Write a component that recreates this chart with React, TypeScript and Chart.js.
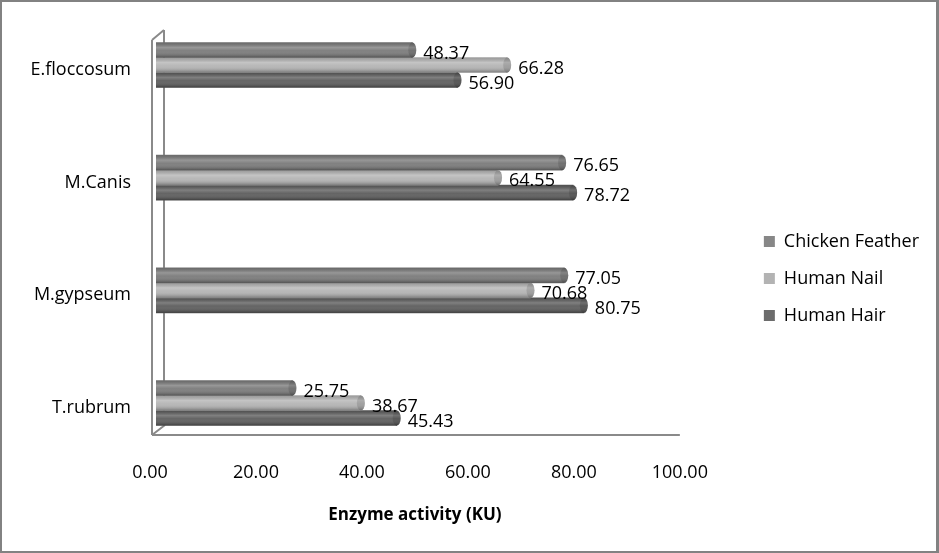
import React, { useEffect, useRef } from 'react';
import { Chart, registerables } from 'chart.js';

Chart.register(...registerables);

// ---- data ----
const categories: string[] = ['T.rubrum', 'M.gypseum', 'M.Canis', 'E.floccosum'];
const seriesNames: string[] = ['Chicken Feather', 'Human Nail', 'Human Hair'];
const chickenFeather: number[] = [25.75, 77.05, 76.65, 48.37];
const humanNail: number[] = [38.67, 70.68, 64.55, 66.28];
const humanHair: number[] = [45.43, 80.75, 78.72, 56.9];
const xMin = 0;
const xMax = 100;
const xStep = 20;
const axisTitle = 'Enzyme activity (KU)';

// ---- styles ----
const barColors = ['#7a7a7a', '#b4b4b4', '#5c5c5c'];
const legendColors = ['#878787', '#b3b3b3', '#6c6c6c'];
const FONT = 'Open Sans';
const DEPTH_X = 6;
const DEPTH_Y = -5;

const wallsPlugin = {
  id: 'walls3d',
  beforeDatasetsDraw(chart: any) {
    const { ctx, chartArea } = chart;
    const L = chartArea.left;
    const B = chartArea.bottom;
    const R = chartArea.right;
    ctx.save();
    ctx.strokeStyle = '#8a8a8a';
    ctx.lineWidth = 2;
    ctx.beginPath();
    // back wall edge
    ctx.moveTo(L + 14, 30);
    ctx.lineTo(L + 14, B - 10);
    // front wall edge
    ctx.moveTo(L + 2, 40);
    ctx.lineTo(L + 2, B);
    // diagonals
    ctx.moveTo(L + 2, 40);
    ctx.lineTo(L + 14, 30);
    ctx.moveTo(L + 2, B);
    ctx.lineTo(L + 15, B - 10);
    // floor front edge
    ctx.moveTo(L + 2, B);
    ctx.lineTo(R, B);
    ctx.stroke();
    ctx.restore();
    // shift bars into the 3D depth
    ctx.save();
    ctx.translate(DEPTH_X, DEPTH_Y);
  },
  afterDatasetsDraw(chart: any) {
    const { ctx } = chart;
    const metas = chart.getSortedVisibleDatasetMetas();
    metas.forEach((meta: any) => {
      const color = barColors[meta.index];
      meta.data.forEach((el: any) => {
        const { x, y, base, height } = el.getProps(['x', 'y', 'base', 'height'], true);
        const top = y - height / 2;
        const g = ctx.createLinearGradient(0, top, 0, top + height);
        g.addColorStop(0, 'rgba(0,0,0,0.14)');
        g.addColorStop(0.33, 'rgba(255,255,255,0.22)');
        g.addColorStop(0.55, 'rgba(255,255,255,0.05)');
        g.addColorStop(1, 'rgba(0,0,0,0.32)');
        ctx.save();
        ctx.fillStyle = g;
        ctx.fillRect(base, top, x - base, height);
        // end cap
        ctx.beginPath();
        ctx.ellipse(x, y, 4, height / 2, 0, 0, Math.PI * 2);
        ctx.fillStyle = color;
        ctx.fill();
        ctx.fillStyle = g;
        ctx.fill();
        ctx.fillStyle = 'rgba(0,0,0,0.12)';
        ctx.fill();
        ctx.restore();
      });
    });
    // value labels
    ctx.save();
    ctx.fillStyle = '#000';
    ctx.font = `18px "${FONT}"`;
    ctx.textAlign = 'left';
    ctx.textBaseline = 'middle';
    metas.forEach((meta: any) => {
      const ds = chart.data.datasets[meta.index];
      meta.data.forEach((el: any, i: number) => {
        const { x, y } = el.getProps(['x', 'y'], true);
        const v = ds.data[i].x as number;
        ctx.fillText(v.toFixed(2), x + 11, y + 3.5);
      });
    });
    ctx.restore();
    ctx.restore();
  },
};

const borderPlugin = {
  id: 'outerBorder',
  afterDraw(chart: any) {
    const { ctx, width, height } = chart;
    ctx.save();
    ctx.fillStyle = '#828282';
    ctx.fillRect(0, 0, width, 2);
    ctx.fillRect(0, 0, 2, height);
    ctx.fillRect(width - 3, 0, 3, height);
    ctx.fillRect(0, height - 2, width, 2);
    ctx.restore();
  },
};

export default function App() {
  const canvasRef = useRef<HTMLCanvasElement | null>(null);

  useEffect(() => {
    document.body.style.margin = '0';
    const canvas = canvasRef.current;
    if (!canvas) return;
    const series = [chickenFeather, humanNail, humanHair];
    const chart = new Chart(canvas, {
      type: 'bar',
      data: {
        datasets: series.map((vals, si) => ({
          label: seriesNames[si],
          data: vals.map((v, i) => ({ x: v, y: i })),
          backgroundColor: barColors[si],
          borderWidth: 0,
          barThickness: 15,
        })),
      },
      plugins: [wallsPlugin, borderPlugin],
      options: {
        indexAxis: 'y',
        animation: false,
        responsive: false,
        maintainAspectRatio: false,
        layout: { padding: { left: 0, right: 10, top: 4, bottom: 0 } },
        plugins: {
          tooltip: { enabled: false },
          legend: {
            position: 'right',
            labels: {
              boxWidth: 11,
              boxHeight: 11,
              padding: 19,
              color: '#000',
              font: { family: FONT, size: 18 },
              generateLabels: () =>
                seriesNames.map((n, i) => ({
                  text: n,
                  fillStyle: legendColors[i],
                  strokeStyle: legendColors[i],
                  lineWidth: 0,
                  hidden: false,
                  datasetIndex: i,
                  fontColor: '#000',
                })),
            },
          },
        },
        scales: {
          x: {
            type: 'linear',
            position: 'bottom',
            min: xMin,
            max: xMax,
            offset: false,
            grid: { display: false, drawTicks: false },
            border: { display: false },
            ticks: {
              stepSize: xStep,
              padding: 27,
              maxRotation: 0,
              autoSkip: false,
              color: '#000',
              font: { family: FONT, size: 18 },
              callback: (v: any) => Number(v).toFixed(2),
            },
            title: {
              display: true,
              text: axisTitle,
              color: '#000',
              font: { family: FONT, size: 17, weight: 'bold' },
              padding: { top: 0, bottom: 28 },
            },
            afterFit: (s: any) => {
              s.height = 118;
              s.paddingLeft = 0;
              s.paddingRight = 0;
            },
          },
          y: {
            type: 'linear',
            position: 'left',
            min: -0.2396,
            max: 3.5858,
            offset: false,
            grid: { display: false, drawTicks: false, offset: false },
            border: { display: false },
            ticks: {
              stepSize: 1,
              includeBounds: false,
              padding: 19,
              color: '#000',
              font: { family: FONT, size: 18 },
              callback: (v: any) => categories[v] ?? '',
            },
            afterBuildTicks: (s: any) => {
              s.ticks = s.ticks.filter((t: any) => Number.isInteger(t.value) && t.value >= 0 && t.value < categories.length);
            },
            afterFit: (s: any) => {
              s.width = 150;
              s.paddingTop = 0;
              s.paddingBottom = 0;
            },
          },
          pad: {
            type: 'linear',
            position: 'right',
            display: false,
            afterFit: (s: any) => {
              s.width = 65;
              s.paddingTop = 0;
              s.paddingBottom = 0;
            },
          },
        },
      } as any,
    });
    return () => chart.destroy();
  }, []);

  return (
    <div style={{ width: 939, height: 553, background: '#fff' }}>
      <canvas ref={canvasRef} width={939} height={553} style={{ display: 'block', width: 939, height: 553 }} />
    </div>
  );
}
